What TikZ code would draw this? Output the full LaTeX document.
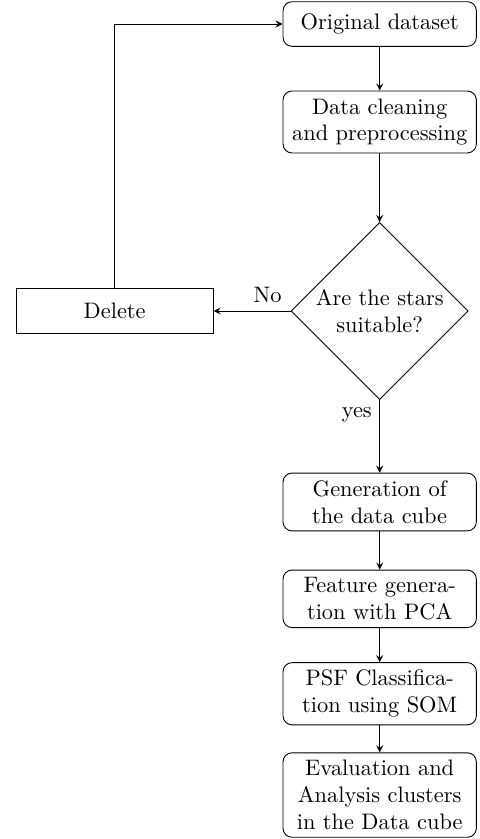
\documentclass[tikz,border=0pt]{standalone}
\usetikzlibrary{shapes.geometric}
\begin{document}
\begin{tikzpicture}[>=stealth,
  procbox/.style={draw,rounded corners,text width=2.8cm,align=center,minimum height=0.7cm},
  delbox/.style={draw,minimum width=3.09cm,minimum height=0.71cm},
  decbox/.style={draw,diamond,aspect=1,inner sep=0pt,minimum size=2.78cm,align=center}]
\useasboundingbox (0,0) rectangle (7.520,-13.170);
\node[procbox] (orig) at (5.960,-0.377) {Original dataset};
\node[procbox] (clean) at (5.960,-1.915) {Data cleaning and preprocessing};
\node[decbox] (stars) at (5.960,-4.882) {Are the stars\\suitable?};
\node[delbox] (del) at (1.800,-4.882) {Delete};
\node[procbox] (cube) at (5.960,-7.880) {Generation of the data cube};
\node[procbox] (feat) at (5.960,-9.400) {Feature generation with PCA};
\node[procbox] (som) at (5.960,-10.890) {PSF Classification using SOM};
\node[procbox] (eval) at (5.960,-12.480) {Evaluation and Analysis clusters in the Data cube};
\draw[->] (orig) -- (clean);
\draw[->] (clean) -- (stars);
\draw[->] (stars) -- node[above,pos=0.3] {No} (del);
\draw[->] (stars) -- node[left,pos=0.2] {yes} (cube);
\draw[->] (cube) -- (feat);
\draw[->] (feat) -- (som);
\draw[->] (som) -- (eval);
\draw[->] (del.north) |- (orig.west);
\end{tikzpicture}
\end{document}
